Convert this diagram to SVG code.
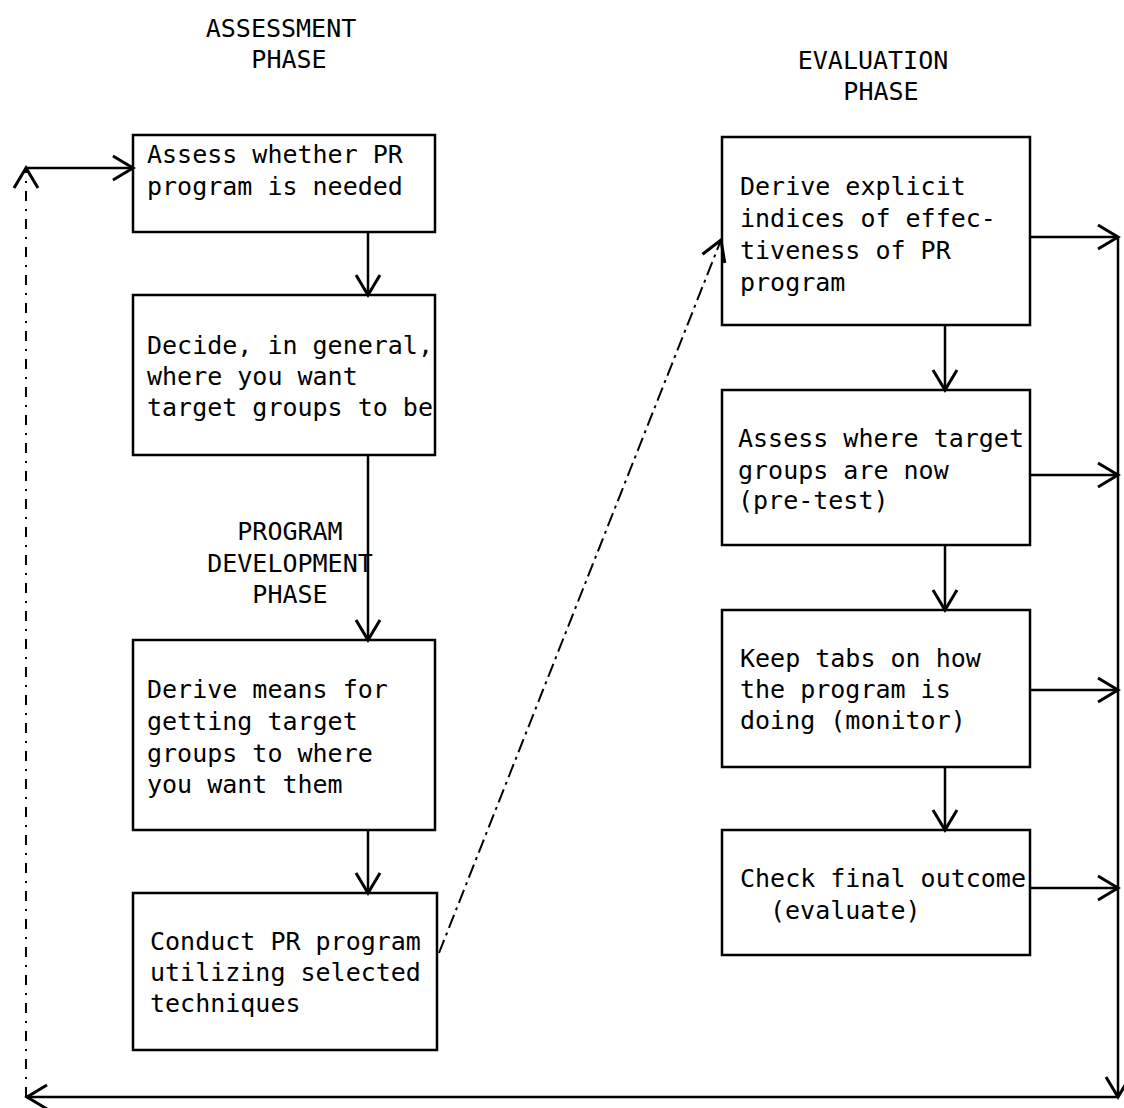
<svg xmlns="http://www.w3.org/2000/svg" width="1124" height="1108" viewBox="0 0 1124 1108">
<style>
.box{fill:none;stroke:#000;stroke-width:2.5}
.ln{fill:none;stroke:#000;stroke-width:2.5}
.dash{fill:none;stroke:#000;stroke-width:2;stroke-dasharray:14 5 3 5}
.faint{fill:none;stroke:#000;stroke-width:2;stroke-dasharray:10 8 2 8}
text{font-family:"DejaVu Sans Mono","Liberation Mono",monospace;font-size:25px;fill:#000}
.c{text-anchor:middle}
</style>
<defs>
<marker id="ah" markerUnits="userSpaceOnUse" markerWidth="30" markerHeight="30" refX="22" refY="13" orient="auto" overflow="visible">
<polyline points="2,1 22,13 2,25" fill="none" stroke="#000" stroke-width="3"/>
</marker>
</defs>
<g id="headers">
<text class="c" x="281" y="37">ASSESSMENT</text>
<text class="c" x="289" y="68">PHASE</text>
<text class="c" x="873" y="69">EVALUATION</text>
<text class="c" x="881" y="100">PHASE</text>
<text class="c" x="290" y="540">PROGRAM</text>
<text class="c" x="290" y="572">DEVELOPMENT</text>
<text class="c" x="290" y="603">PHASE</text>
</g>
<g id="n1"><rect class="box" x="133" y="135" width="302" height="97"/>
<text x="147" y="163">Assess whether PR</text><text x="147" y="195">program is needed</text></g>
<g id="n2"><rect class="box" x="133" y="295" width="302" height="160"/>
<text x="147" y="354">Decide, in general,</text><text x="147" y="385">where you want</text><text x="147" y="416">target groups to be</text></g>
<g id="n3"><rect class="box" x="133" y="640" width="302" height="190"/>
<text x="147" y="698">Derive means for</text><text x="147" y="730">getting target</text><text x="147" y="762">groups to where</text><text x="147" y="793">you want them</text></g>
<g id="n4"><rect class="box" x="133" y="893" width="304" height="157"/>
<text x="150" y="950">Conduct PR program</text><text x="150" y="981">utilizing selected</text><text x="150" y="1012">techniques</text></g>
<g id="n5"><rect class="box" x="722" y="137" width="308" height="188"/>
<text x="740" y="195">Derive explicit</text><text x="740" y="227">indices of effec-</text><text x="740" y="259">tiveness of PR</text><text x="740" y="291">program</text></g>
<g id="n6"><rect class="box" x="722" y="390" width="308" height="155"/>
<text x="738" y="447">Assess where target</text><text x="738" y="479">groups are now</text><text x="738" y="509">(pre-test)</text></g>
<g id="n7"><rect class="box" x="722" y="610" width="308" height="157"/>
<text x="740" y="667">Keep tabs on how</text><text x="740" y="698">the program is</text><text x="740" y="729">doing (monitor)</text></g>
<g id="n8"><rect class="box" x="722" y="830" width="308" height="125"/>
<text x="740" y="887">Check final outcome</text><text x="770" y="919">(evaluate)</text></g>
<g id="connectors">
<line class="ln" x1="368" y1="232" x2="368" y2="295" marker-end="url(#ah)"/>
<line class="ln" x1="368" y1="455" x2="368" y2="640" marker-end="url(#ah)"/>
<line class="ln" x1="368" y1="830" x2="368" y2="893" marker-end="url(#ah)"/>
<line class="ln" x1="945" y1="325" x2="945" y2="390" marker-end="url(#ah)"/>
<line class="ln" x1="945" y1="545" x2="945" y2="610" marker-end="url(#ah)"/>
<line class="ln" x1="945" y1="767" x2="945" y2="830" marker-end="url(#ah)"/>
<line class="dash" x1="439" y1="953" x2="721" y2="240" marker-end="url(#ah)"/>
<line class="ln" x1="1030" y1="237" x2="1118" y2="237" marker-end="url(#ah)"/>
<line class="ln" x1="1030" y1="475" x2="1118" y2="475" marker-end="url(#ah)"/>
<line class="ln" x1="1030" y1="690" x2="1118" y2="690" marker-end="url(#ah)"/>
<line class="ln" x1="1030" y1="888" x2="1118" y2="888" marker-end="url(#ah)"/>
<line class="ln" x1="1118" y1="237" x2="1118" y2="1097" marker-end="url(#ah)"/>
<line class="ln" x1="1118" y1="1097" x2="27" y2="1097" marker-end="url(#ah)"/>
<line class="faint" x1="26" y1="1097" x2="26" y2="168" marker-end="url(#ah)"/>
<line class="ln" x1="26" y1="168" x2="133" y2="168" marker-end="url(#ah)"/>
</g>
</svg>
